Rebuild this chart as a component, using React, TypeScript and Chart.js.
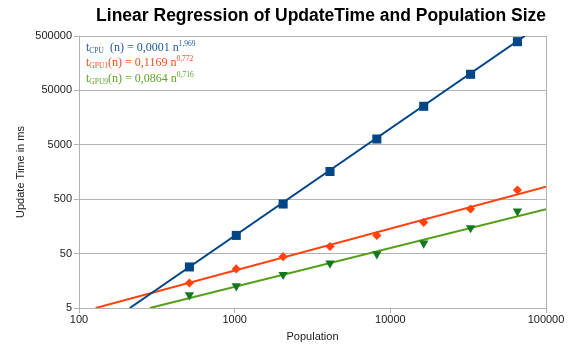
import React, { useEffect, useRef } from 'react';
import { Chart, registerables } from 'chart.js';

Chart.register(...registerables);

const populations = [512, 1024, 2048, 4096, 8192, 16384, 32768, 65536];
const cpuTimes = [28.4, 108, 408, 1615, 6390, 25500, 98900, 393000];
const gpu1Times = [14.4, 26.1, 43.9, 67.5, 108, 188, 330, 738];
const gpu9Times = [8.67, 12.7, 20.5, 33.2, 49.2, 77.3, 148, 300];

const cpuTrendX = [212, 73100];
const cpuTrendY = [5, 500000];
const gpu1TrendX = [128, 100000];
const gpu1TrendY = [5, 849];
const gpu9TrendX = [285, 100000];
const gpu9TrendY = [5, 326];

const xTicks = [100, 1000, 10000, 100000];
const yTicks = [5, 50, 500, 5000, 50000, 500000];

const titleText = 'Linear Regression of UpdateTime and Population Size';
const xTitle = 'Population';
const yTitle = 'Update Time in ms';

const cpuEquation = [['t', ''], ['CPU', 'sub'], ['  (n) = 0,0001 n', ''], ['1,969', 'sup']];
const gpu1Equation = [['t', ''], ['GPU1', 'sub'], ['(n) = 0,1169 n', ''], ['0,772', 'sup']];
const gpu9Equation = [['t', ''], ['GPU9', 'sub'], ['(n) = 0,0864 n', ''], ['0,716', 'sup']];

const BLUE = '#004586';
const ORANGE = '#ff420e';
const GREEN_LINE = '#579d1c';
const GREEN_MARK = '#14781e';
const GRID = '#b3b3b3';
const SANS = '"Liberation Sans", Arial, sans-serif';

const equations = [
  { parts: cpuEquation, color: '#1f5b9c' },
  { parts: gpu1Equation, color: '#ff4a1a' },
  { parts: gpu9Equation, color: '#5ea424' },
];

const equationPlugin = {
  id: 'equationPlugin',
  afterDatasetsDraw(chart: any) {
    const { ctx, chartArea } = chart;
    ctx.save();
    ctx.textBaseline = 'alphabetic';
    ctx.textAlign = 'left';
    let y = chartArea.top + 14.5;
    for (const eq of equations) {
      let x = chartArea.left + 7;
      ctx.fillStyle = eq.color;
      for (const [text, mode] of eq.parts) {
        const size = mode ? 7.5 : 12;
        ctx.font = `${size}px "Liberation Serif", "DejaVu Serif", serif`;
        const dy = mode === 'sub' ? 2 : mode === 'sup' ? -5 : 0;
        ctx.fillText(text, x, y + dy);
        x += ctx.measureText(text).width;
      }
      y += 15.7;
    }
    ctx.restore();
  },
};

const toPoints = (xs: number[], ys: number[]) => xs.map((x, i) => ({ x, y: ys[i] }));

export default function App() {
  const ref = useRef<HTMLCanvasElement>(null);

  useEffect(() => {
    if (!ref.current) return;
    const chart = new Chart(ref.current, {
      type: 'scatter',
      data: {
        datasets: [
          {
            label: 'CPU',
            data: toPoints(populations, cpuTimes),
            showLine: false,
            pointStyle: 'rect',
            pointRadius: 6.4,
            backgroundColor: BLUE,
            borderColor: BLUE,
            borderWidth: 0,
          },
          {
            label: 'GPU1',
            data: toPoints(populations, gpu1Times),
            showLine: false,
            pointStyle: 'rectRot',
            pointRadius: 4.6,
            backgroundColor: ORANGE,
            borderColor: ORANGE,
            borderWidth: 0,
          },
          {
            label: 'GPU9',
            data: toPoints(populations, gpu9Times),
            showLine: false,
            pointStyle: 'triangle',
            rotation: 180,
            pointRadius: 5.4,
            backgroundColor: GREEN_MARK,
            borderColor: GREEN_MARK,
            borderWidth: 0,
          },
          {
            label: 'CPU trend',
            data: toPoints(cpuTrendX, cpuTrendY),
            showLine: true,
            pointRadius: 0,
            borderColor: BLUE,
            borderWidth: 2,
          },
          {
            label: 'GPU1 trend',
            data: toPoints(gpu1TrendX, gpu1TrendY),
            showLine: true,
            pointRadius: 0,
            borderColor: ORANGE,
            borderWidth: 2,
          },
          {
            label: 'GPU9 trend',
            data: toPoints(gpu9TrendX, gpu9TrendY),
            showLine: true,
            pointRadius: 0,
            borderColor: GREEN_LINE,
            borderWidth: 2,
          },
        ],
      },
      options: {
        animation: false,
        responsive: false,
        layout: { padding: { left: 0, right: 27, top: 0, bottom: 0 } },
        plugins: {
          legend: { display: false },
          tooltip: { enabled: false },
          title: {
            display: true,
            text: titleText,
            align: 'end',
            color: '#000',
            font: { family: SANS, size: 17.5, weight: 'bold', lineHeight: 1.2 },
            padding: { top: 6, bottom: 9 },
          },
        },
        scales: {
          x: {
            type: 'logarithmic',
            position: 'bottom',
            min: 100,
            max: 100000,
            afterBuildTicks: (s: any) => {
              s.ticks = xTicks.map((v) => ({ value: v }));
            },
            afterFit: (s: any) => {
              s.height = 39;
            },
            ticks: {
              callback: (v: any) => String(v),
              font: { family: SANS, size: 11 },
              color: '#1a1a1a',
              padding: 0,
              maxRotation: 0,
              autoSkip: false,
            },
            grid: {
              color: (c: any) =>
                c.tick && (c.tick.value === xTicks[0] || c.tick.value === xTicks[xTicks.length - 1])
                  ? GRID
                  : 'rgba(0,0,0,0)',
              tickColor: GRID,
              tickLength: 5,
            },
            border: { color: GRID },
            title: {
              display: true,
              text: xTitle,
              color: '#1a1a1a',
              font: { family: SANS, size: 11, lineHeight: 1.2 },
              padding: { top: 0, bottom: 3 },
            },
          },
          y: {
            type: 'logarithmic',
            position: 'left',
            min: 5,
            max: 500000,
            afterBuildTicks: (s: any) => {
              s.ticks = yTicks.map((v) => ({ value: v }));
            },
            afterFit: (s: any) => {
              s.width = 79;
            },
            ticks: {
              callback: (v: any) => String(v),
              font: { family: SANS, size: 11 },
              color: '#1a1a1a',
              padding: 2,
              autoSkip: false,
            },
            grid: {
              color: GRID,
              tickColor: GRID,
              tickLength: 5,
            },
            border: { color: GRID },
            title: {
              display: true,
              text: yTitle,
              color: '#1a1a1a',
              font: { family: SANS, size: 11, lineHeight: 1.2 },
              padding: { top: 14, bottom: 0 },
            },
          },
        },
      } as any,
      plugins: [equationPlugin],
    });
    return () => chart.destroy();
  }, []);

  return (
    <div style={{ position: 'fixed', left: 0, top: 0, width: 573, height: 347 }}>
      <canvas ref={ref} width={573} height={347} style={{ display: 'block' }} />
    </div>
  );
}
